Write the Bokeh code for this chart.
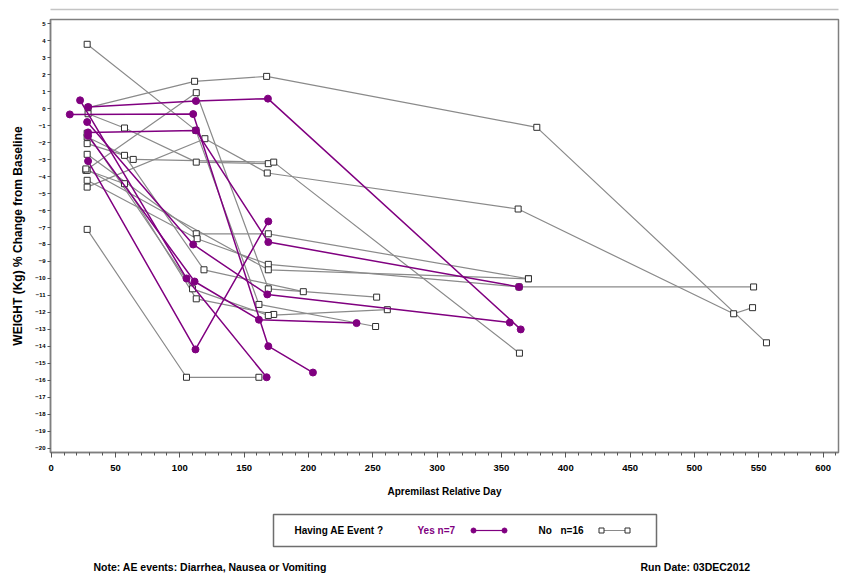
from bokeh.plotting import figure
from bokeh.layouts import column
from bokeh.models import Range1d, SingleIntervalTicker
from bokeh.core.properties import value
from bokeh.embed import file_html
from bokeh.resources import INLINE

FONT = "Liberation Sans"
PURPLE = "#800080"
GRAY_LINE = "#8a8a8a"
SQUARE_EDGE = "#2e2e2e"
FRAME = "#7f7f7f"

# Subjects with an AE event (diarrhea, nausea or vomiting): study day, % weight change
ae_yes_day = [
    [28.8, 112.5, 168.5, 365.0],
    [14.5, 110.4, 168.8, 203.5],
    [28.7, 112.5, 168.8, 363.7],
    [28.0, 110.4, 168.0, 356.5],
    [22.5, 105.2, 167.5],
    [28.7, 111.5, 161.5, 237.4],
    [28.7, 112.2, 168.8],
]
ae_yes_pct = [
    [0.10, 0.45, 0.59, -13.00],
    [-0.34, -0.32, -13.99, -15.54],
    [-1.40, -1.28, -7.86, -10.50],
    [-0.79, -8.00, -10.94, -12.60],
    [0.49, -10.00, -15.82],
    [-1.60, -10.18, -12.43, -12.63],
    [-3.09, -14.18, -6.64],
]

# Subjects without an AE event
ae_no_day = [
    [28.7, 111.5, 167.5, 377.5, 556.0],
    [28.0, 112.5, 161.5, 252.2],
    [27.0, 112.8, 168.8, 253.0],
    [28.0, 119.5, 168.0, 363.0, 530.5, 545.2],
    [28.7, 57.0, 112.8, 168.8],
    [28.0, 63.8, 173.0, 364.0],
    [28.0, 105.2, 161.5],
    [28.0, 57.0, 118.8, 196.0],
    [28.0, 112.8, 168.8, 371.0],
    [28.0, 113.5, 168.8, 363.7, 546.0],
    [28.0, 57.0, 112.8, 173.0],
    [28.0, 109.9, 168.8, 261.3],
    [27.0, 168.8, 371.0],
]
ae_no_pct = [
    [0.06, 1.61, 1.90, -1.10, -13.79],
    [3.79, -1.28, -11.53, -12.83],
    [-3.63, 0.94, -10.61, -11.10],
    [-4.62, -1.77, -3.79, -5.91, -12.08, -11.72],
    [-0.30, -1.14, -3.15, -3.24],
    [-1.67, -2.99, -3.15, -14.40],
    [-7.11, -15.82, -15.82],
    [-2.06, -2.75, -9.49, -10.78],
    [-2.69, -7.37, -7.37, -10.02],
    [-4.22, -7.66, -9.17, -10.50, -10.50],
    [-3.63, -4.42, -11.20, -12.12],
    [-1.45, -10.61, -12.18, -11.84],
    [-3.55, -9.49, -10.02],
]

legend_title = "Having AE Event ?"
legend_yes = "Yes n=7"
legend_no = ["No", "n=16"]
note_text = "Note: AE events: Diarrhea, Nausea or Vomiting"
run_date_text = "Run Date: 03DEC2012"

W = 849
LEFT, RIGHT = 50, 11          # page margins around the plot frame


def blank(height):
    # the column layout lines every child's frame up with the main plot frame,
    # so the x range is chosen to make one data unit equal one page pixel
    f = figure(width=W, height=height, x_range=Range1d(LEFT, W - RIGHT),
               y_range=Range1d(height, 0),
               x_axis_type=None, y_axis_type=None, toolbar_location=None,
               output_backend="svg", min_border_left=LEFT, min_border_right=RIGHT,
               min_border_top=0, min_border_bottom=0, outline_line_color=None)
    f.grid.visible = False
    return f


# thin rule across the top of the page
top = blank(17)
top.segment(x0=[8], y0=[9], x1=[841], y1=[9], line_color="#c4c4c4", line_width=1.5)

# main spaghetti plot
p = figure(width=W, height=488, x_range=Range1d(-0.5, 612), y_range=Range1d(-20.25, 5.25),
           toolbar_location=None, output_backend="svg",
           min_border_left=LEFT, min_border_right=RIGHT, min_border_top=2, min_border_bottom=53)
p.grid.visible = False
p.outline_line_color = FRAME
p.outline_line_width = 1.5

p.xaxis.ticker = SingleIntervalTicker(interval=50, num_minor_ticks=5)
p.xaxis.axis_label = "Apremilast Relative Day"
p.xaxis.major_label_text_font_size = "9.5px"
p.xaxis.major_tick_out = 5
p.xaxis.minor_tick_out = 3
p.xaxis.major_label_standoff = 7
p.xaxis.axis_label_standoff = 12

p.yaxis.ticker = SingleIntervalTicker(interval=1, num_minor_ticks=0)
p.yaxis.axis_label = "WEIGHT (Kg) % Change from Baseline"
p.yaxis.major_label_text_font_size = "6px"
p.yaxis.major_tick_out = 3
p.yaxis.major_label_standoff = 2
p.yaxis.axis_label_standoff = 7
p.yaxis.axis_label_text_font_size = "12px"
p.xaxis.axis_label_text_font_size = "10px"

for ax in (p.xaxis, p.yaxis):
    ax.major_tick_in = 0
    ax.minor_tick_in = 0
    ax.axis_line_color = FRAME
    ax.axis_line_width = 1.5
    ax.major_tick_line_color = "#555555"
    ax.minor_tick_line_color = "#555555"
    ax.major_label_text_font = FONT
    ax.major_label_text_font_style = "bold"
    ax.major_label_text_color = "black"
    ax.axis_label_text_font = FONT
    ax.axis_label_text_font_style = "bold"
    ax.axis_label_text_color = "black"

for d, v in zip(ae_no_day, ae_no_pct):
    p.line(d, v, line_color=GRAY_LINE, line_width=1.2)
for d, v in zip(ae_no_day, ae_no_pct):
    p.scatter(d, v, marker="square", size=6, fill_color="white",
              line_color=SQUARE_EDGE, line_width=1)
for d, v in zip(ae_yes_day, ae_yes_pct):
    p.line(d, v, line_color=PURPLE, line_width=1.5)
for d, v in zip(ae_yes_day, ae_yes_pct):
    p.scatter(d, v, marker="circle", size=7, fill_color=PURPLE, line_color=PURPLE)

# legend box and footnotes
bot = blank(68)
bot.quad(left=[273], right=[656], top=[9], bottom=[41], fill_color=None,
         line_color="#6e6e6e", line_width=1.5)
txt = dict(text_font=value(FONT), text_font_style="bold", text_baseline="middle",
           text_font_size="10px")
bot.text(x=[294], y=[25], text=[legend_title], text_color="black", **txt)
bot.text(x=[417], y=[25], text=[legend_yes], text_color=PURPLE, **txt)
bot.segment(x0=[473], y0=[25], x1=[504], y1=[25], line_color=PURPLE, line_width=1.2)
bot.scatter([473, 504], [25, 25], marker="circle", size=5, fill_color=PURPLE, line_color=PURPLE)
bot.text(x=[538], y=[25], text=[legend_no[0]], text_color="black", **txt)
bot.text(x=[560], y=[25], text=[legend_no[1]], text_color="black", **txt)
bot.segment(x0=[601], y0=[25], x1=[627], y1=[25], line_color=GRAY_LINE, line_width=1)
bot.scatter([601, 627], [25, 25], marker="square", size=5, fill_color="white",
            line_color=SQUARE_EDGE, line_width=1)
foot = dict(txt, text_font_size="10.5px")
bot.text(x=[93], y=[61], text=[note_text], text_color="black", **foot)
bot.text(x=[640], y=[61], text=[run_date_text], text_color="black", **foot)

layout = column(top, p, bot, spacing=0)
open("out.html", "w").write(file_html(layout, INLINE))
